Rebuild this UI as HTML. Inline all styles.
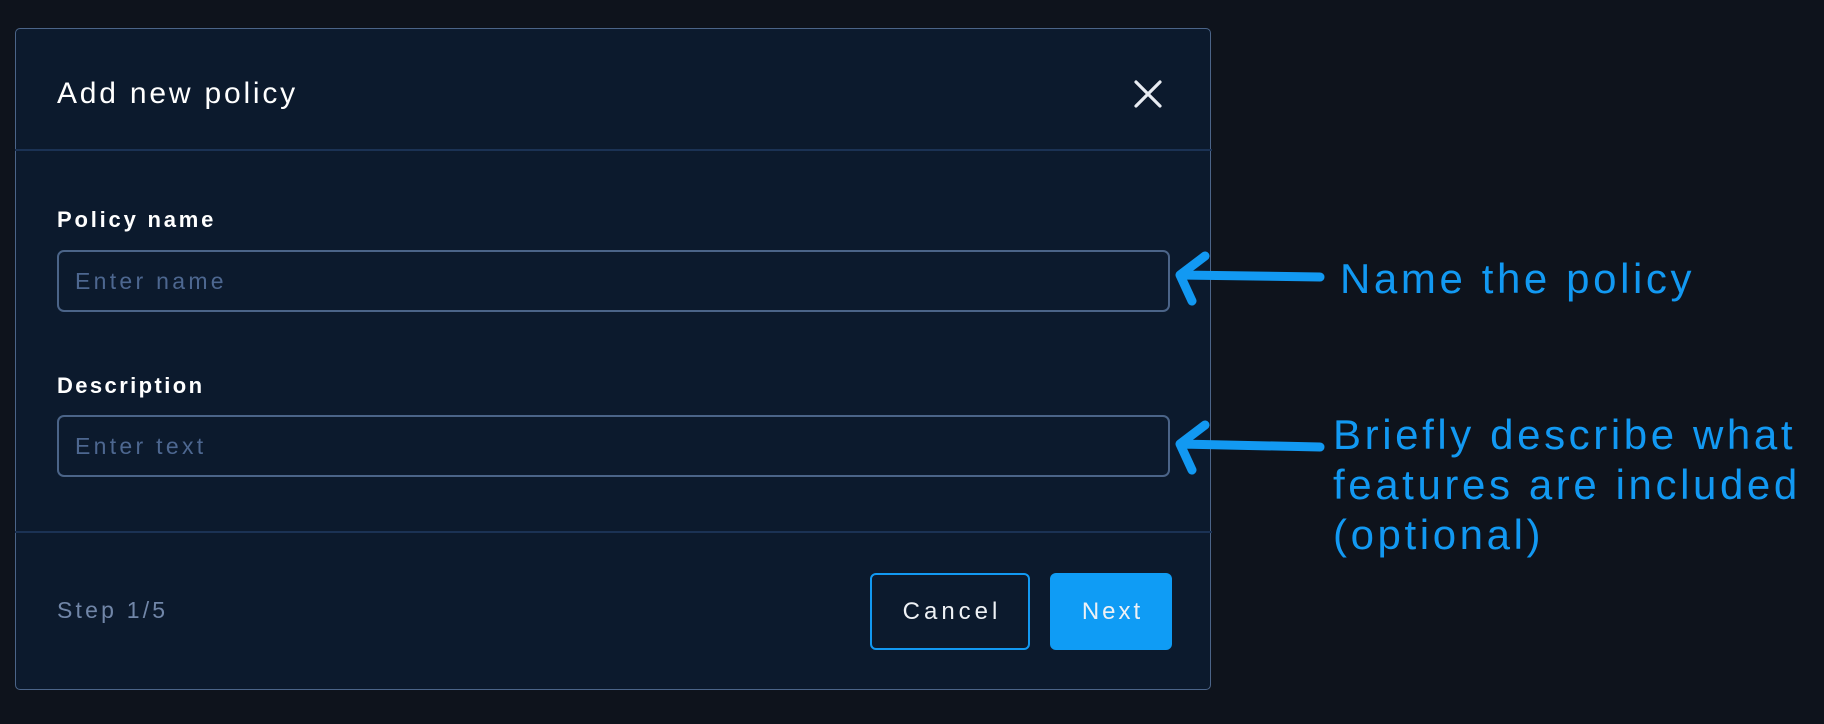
<!DOCTYPE html>
<html><head><meta charset="utf-8"><style>
html,body{margin:0;padding:0}
body{width:1824px;height:724px;background:#0e131c;position:relative;overflow:hidden;font-family:"Liberation Sans",sans-serif}
.dlg{position:absolute;left:15px;top:28px;width:1196px;height:662px;background:#0c1a2d;border:1.5px solid #4b6488;border-radius:5px;box-sizing:border-box}
.t{position:absolute;white-space:nowrap}
.hr{position:absolute;left:15px;width:1197px;height:2px;background:#1b3254}
.inp{position:absolute;left:57px;width:1113px;height:62px;border:2px solid #4b6488;border-radius:7px;box-sizing:border-box}
.ph{position:absolute;left:16px;top:16px;font-size:23px;color:#4d6790;letter-spacing:3.3px}
.ann{color:#1299f2;font-size:42px;letter-spacing:3.6px}
</style></head><body>
<div class="dlg"></div>
<div class="t" style="left:57px;top:77px;font-size:30px;color:#fff;letter-spacing:2.8px">Add new policy</div>
<svg style="position:absolute;left:1133px;top:79px" width="30" height="30"><path d="M3 3L27 27M27 3L3 27" stroke="#e8ecf2" stroke-width="3.2" stroke-linecap="round"/></svg>
<div class="hr" style="top:149px"></div>
<div class="t" style="left:57px;top:207px;font-size:22px;font-weight:bold;color:#fff;letter-spacing:2.8px">Policy name</div>
<div class="inp" style="top:250px"><div class="ph">Enter name</div></div>
<div class="t" style="left:57px;top:373px;font-size:22px;font-weight:bold;color:#fff;letter-spacing:2.4px">Description</div>
<div class="inp" style="top:415px"><div class="ph">Enter text</div></div>
<div class="hr" style="top:531px"></div>
<div class="t" style="left:57px;top:597px;font-size:23px;color:#7186a8;letter-spacing:3.2px">Step 1/5</div>
<div style="position:absolute;left:870px;top:573px;width:160px;height:77px;border:2px solid #1299f2;border-radius:6px;box-sizing:border-box;color:#eef1f5;font-size:24px;text-align:center;line-height:73px;letter-spacing:4px;text-indent:4px">Cancel</div>
<div style="position:absolute;left:1050px;top:573px;width:122px;height:77px;background:#0f9cf5;border-radius:6px;color:#eef1f5;font-size:24px;text-align:center;line-height:77px;letter-spacing:3px;text-indent:3px">Next</div>
<svg style="position:absolute;left:0;top:0" width="1824" height="724">
<g stroke="#1299f2" stroke-width="9" stroke-linecap="round" stroke-linejoin="round" fill="none">
<path d="M1320 277L1180 275M1205 256L1180 275L1192 301"/>
<path d="M1320 447L1180 444M1205 425L1180 444L1192 470"/>
</g></svg>
<div class="t ann" style="left:1340px;top:255px">Name the policy</div>
<div class="t ann" style="left:1333px;top:410px;line-height:50px">Briefly describe what<br>features are included<br>(optional)</div>
</body></html>
